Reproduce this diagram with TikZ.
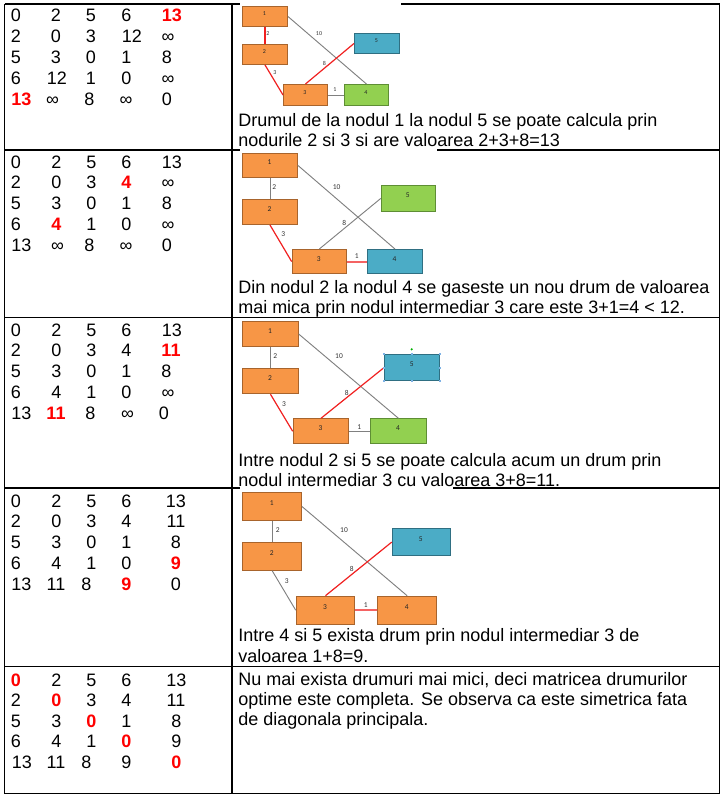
\documentclass[tikz,border=0pt]{standalone}
\usepackage{fontspec}
\setmainfont{Liberation Sans}
\newfontfamily\gfont{Carlito}
\definecolor{orfill}{HTML}{F79646}
\definecolor{ordraw}{HTML}{A8642C}
\definecolor{grfill}{HTML}{92D050}
\definecolor{grdraw}{HTML}{5E8E34}
\definecolor{blfill}{HTML}{4BACC6}
\definecolor{bldraw}{HTML}{2F6F82}
\definecolor{edgegray}{HTML}{808080}
\definecolor{edgered}{HTML}{F02020}
\definecolor{handleblue}{HTML}{7FB2E5}
\newcommand\R[1]{\textcolor{red}{\bfseries #1}}
\newcommand\I{∞}
\newcommand\trow[3]{\foreach \cx/\ct [count=\ci] in {#3} {\node[num] (#1c\ci) at (\cx,#2) {\ct};}}
\newcommand\gbox[8]{%
  \node[#2, anchor=north west, minimum width={(#5-#3)*0.75pt}, minimum height={(#6-#4)*0.75pt}] (#1) at (#3,#4) {};
  \node[inner sep=0pt, text=black!85, font=\gfont\fontsize{#8}{#8}\selectfont] (#1t) at ({(#3+#5)/2},{#4+0.4*(#6-#4)}) {#7};}
\tikzset{
  num/.style={anchor=base, inner sep=0pt, font=\fontsize{13.5}{15}\selectfont},
  txt/.style={anchor=base west, inner sep=0pt, font=\fontsize{13.5}{15}\selectfont},
  grid/.style={line width=0.95pt, black},
  gb/.style={draw, line width=0.7pt, inner sep=0pt, rectangle},
  orb/.style={gb, fill=orfill, draw=ordraw},
  grb/.style={gb, fill=grfill, draw=grdraw},
  blb/.style={gb, fill=blfill, draw=bldraw},
  eg/.style={draw=edgegray, line width=0.7pt},
  er/.style={draw=edgered, line width=0.9pt},
  elab/.style={inner sep=0pt, text=black!80, font=\gfont\fontsize{5.6}{5.6}\selectfont},
  elabs/.style={inner sep=0pt, text=black!80, font=\gfont\fontsize{4.5}{4.5}\selectfont},
  handle/.style={fill=handleblue, inner sep=0pt, minimum size=1.6pt, rectangle}
}
\begin{document}
\begin{tikzpicture}[x=0.75pt,y=-0.75pt]
\useasboundingbox (0,0) rectangle (726,800);
% ---------- table grid ----------
\draw[grid] (4.5,4) -- (240,4);
\draw[grid] (401,4) -- (719.5,4);
\draw[grid] (4.5,150) -- (240,150);
\draw[grid] (437,150) -- (719.5,150);
\draw[grid] (4.5,317.7) -- (719.5,317.7);
\draw[grid] (4.5,488) -- (240,488);
\draw[grid] (453,488) -- (719.5,488);
\draw[grid] (4.5,666.5) -- (719.5,666.5);
\draw[grid] (4.5,793.5) -- (719.5,793.5);
\draw[grid] (4.5,4) -- (4.5,793.5);
\draw[grid] (232,4) -- (232,793.5);
\draw[grid] (719.5,4) -- (719.5,793.5);
% ---------- matrices ----------
\trow{taA}{21}{16/0, 56/2, 91/5, 126.5/6, 172/\R{13}}
\trow{taB}{42}{16/2, 56/0, 91/3, 132/12, 168/\I}
\trow{taC}{63}{16/5, 56/3, 91/0, 126.5/1, 167/8}
\trow{taD}{84}{16/6, 57/12, 91/1, 126.5/0, 168/\I}
\trow{taE}{105}{21.5/\R{13}, 52.5/\I, 89.5/8, 126/\I, 167/0}
%
\trow{tbA}{168}{16/0, 56.5/2, 91.5/5, 126.5/6, 172/13}
\trow{tbB}{188.75}{16/2, 56.5/0, 91.5/3, 126.5/\R{4}, 168/\I}
\trow{tbC}{209.5}{16/5, 56.5/3, 91.5/0, 126.5/1, 167/8}
\trow{tbD}{230.25}{16/6, 56.5/\R{4}, 91.5/1, 126.5/0, 168/\I}
\trow{tbE}{251}{21.5/13, 57.5/\I, 89.5/8, 126/\I, 167/0}
%
\trow{tcA}{336}{16/0, 56.5/2, 91.5/5, 126.5/6, 172/13}
\trow{tcB}{356.75}{16/2, 56.5/0, 91.5/3, 126.5/4, 171/\R{11}}
\trow{tcC}{377.5}{16/5, 56.5/3, 91.5/0, 126.5/1, 166.5/8}
\trow{tcD}{398.25}{16/6, 56.5/4, 91.5/1, 126.5/0, 168/\I}
\trow{tcE}{419}{21.5/13, 56/\R{11}, 90.5/8, 127.5/\I, 164/0}
%
\trow{tdA}{507}{16/0, 56.5/2, 91.5/5, 126.5/6, 176/13}
\trow{tdB}{527.75}{16/2, 56.5/0, 91.5/3, 126.5/4, 176/11}
\trow{tdC}{548.5}{16/5, 56.5/3, 91.5/0, 126.5/1, 176/8}
\trow{tdD}{569.25}{16/6, 56.5/4, 91.5/1, 126.5/0, 176/\R{9}}
\trow{tdE}{590}{21.5/13, 56/11, 86.5/8, 126.5/\R{9}, 176/0}
%
\trow{teA}{686}{16/\R{0}, 56.5/2, 91.5/5, 126.5/6, 176.5/13}
\trow{teB}{706.5}{16/2, 56.5/\R{0}, 91.5/3, 126.5/4, 176/11}
\trow{teC}{727}{16/5, 56.5/3, 91.5/\R{0}, 126.5/1, 176.5/8}
\trow{teD}{747.5}{16/6, 56.5/4, 91.5/1, 126.5/\R{0}, 176.5/9}
\trow{teE}{768}{22/13, 56/11, 86.5/8, 126.5/9, 176.5/\R{0}}
% ---------- explanations ----------
\node[txt] (p1a) at (238,126.5) {Drumul de la nodul 1 la nodul 5 se poate calcula prin};
\node[txt] (p1b) at (238,146.5) {nodurile 2 si 3 si are valoarea 2+3+8=13};
\node[txt] (p2a) at (238,293.5) {Din nodul 2 la nodul 4 se gaseste un nou drum de valoarea};
\node[txt] (p2b) at (238,313.5) {mai mica prin nodul intermediar 3 care este 3+1=4 < 12.};
\node[txt] (p3a) at (238,466) {Intre nodul 2 si 5 se poate calcula acum un drum prin};
\node[txt] (p3b) at (238,486) {nodul intermediar 3 cu valoarea 3+8=11.};
\node[txt] (p4a) at (238,641.5) {Intre 4 si 5 exista drum prin nodul intermediar 3 de};
\node[txt] (p4b) at (238,662) {valoarea 1+8=9.};
\node[txt] (p5a) at (238,685) {Nu mai exista drumuri mai mici, deci matricea drumurilor};
\node[txt] (p5b) at (238,705) {optime este completa. Se observa ca este simetrica fata};
\node[txt] (p5c) at (238,725) {de diagonala principala.};
% ---------- graph 1 ----------
\gbox{gA1}{orb}{242}{6}{287}{26}{1}{4.5}
\gbox{gA2}{orb}{242}{44}{287}{64}{2}{4.5}
\gbox{gA3}{orb}{283}{84}{327}{105}{3}{4.5}
\gbox{gA4}{grb}{344}{84}{388}{105}{4}{4.5}
\gbox{gA5}{blb}{354}{33}{399}{53}{5}{4.5}
\draw[er] (gA1.south) -- (gA2.north);
\draw[er] (gA2.south) -- (gA3.west);
\draw[eg] (gA1.east) -- (gA4.north);
\draw[er] (gA3.north) -- (gA5.west);
\draw[eg] (gA3.east) -- (gA4.west);
\node[elabs] (gAl12) at (268,34) {2};
\node[elabs] (gAl23) at (275,72.5) {3};
\node[elabs] (gAl14) at (319,33.5) {10};
\node[elabs] (gAl35) at (324.5,63) {8};
\node[elabs] (gAl34) at (335,90) {1};
% ---------- graph 2 ----------
\gbox{gB1}{orb}{242.3}{152.7}{296.7}{176.7}{1}{5.6}
\gbox{gB2}{orb}{242.3}{199}{296.7}{224}{2}{5.6}
\gbox{gB3}{orb}{291.7}{249}{346}{273.3}{3}{5.6}
\gbox{gB4}{blb}{367.3}{249}{421.7}{273.3}{4}{5.6}
\gbox{gB5}{grb}{380.7}{185.3}{435}{210.7}{5}{5.6}
\draw[eg] (gB1.south) -- (gB2.north);
\draw[er] (gB2.south) -- (gB3.west);
\draw[eg] (gB1.east) -- (gB4.north);
\draw[eg] (gB3.north) -- (gB5.west);
\draw[er, line width=1.4pt, draw=edgered!70] (gB3.east) -- (gB4.west);
\node[elab] (gBl12) at (274.3,186.7) {2};
\node[elab] (gBl23) at (283.3,234.3) {3};
\node[elab] (gBl14) at (336.7,186.7) {10};
\node[elab] (gBl35) at (344.3,222.7) {8};
\node[elab] (gBl34) at (356.7,256) {1};
% ---------- graph 3 ----------
\gbox{gC1}{orb}{242.3}{321}{297.7}{346}{1}{5.6}
\gbox{gC2}{orb}{242.3}{368.3}{297.7}{393.3}{2}{5.6}
\gbox{gC3}{orb}{292.7}{418.3}{348.3}{443.3}{3}{5.6}
\gbox{gC4}{grb}{370}{418.3}{426}{443.3}{4}{5.6}
\gbox{gC5}{blb}{384}{354.3}{439.3}{380}{5}{5.6}
\draw[eg] (gC1.south) -- (gC2.north);
\draw[er] (gC2.south) -- (gC3.west);
\draw[eg] (gC1.east) -- (gC4.north);
\draw[er] (gC3.north) -- (gC5.west);
\draw[eg] (gC3.east) -- (gC4.west);
\node[elab] (gCl12) at (275.3,355.7) {2};
\node[elab] (gCl23) at (284,404.3) {3};
\node[elab] (gCl14) at (339,355.7) {10};
\node[elab] (gCl35) at (346.7,392.7) {8};
\node[elab] (gCl34) at (359.3,426.7) {1};
\foreach \a [count=\i] in {north west, north, north east, east, south east, south, south west, west}
  \node[handle] (gCh\i) at (gC5.\a) {};
\node[circle, fill=green!70!black, inner sep=0pt, minimum size=1.8pt] (gCrot) at (411.7,349.3) {};
% ---------- graph 4 ----------
\gbox{gD1}{orb}{242.3}{492.3}{301}{519.7}{1}{5.6}
\gbox{gD2}{orb}{242.3}{542.3}{301}{569.7}{2}{5.6}
\gbox{gD3}{orb}{295.7}{595.7}{354.3}{623.7}{3}{5.6}
\gbox{gD4}{orb}{377.3}{595.7}{436}{623.7}{4}{5.6}
\gbox{gD5}{blb}{391.7}{528}{450}{555.3}{5}{5.6}
\draw[eg] (gD1.south) -- (gD2.north);
\draw[eg] (gD2.south) -- (gD3.west);
\draw[eg] (gD1.east) -- (gD4.north);
\draw[er] (gD3.north) -- (gD5.west);
\draw[er, line width=1.4pt, draw=edgered!70] (gD3.east) -- (gD4.west);
\node[elab] (gDl12) at (277.7,529.7) {2};
\node[elab] (gDl23) at (286.7,580.7) {3};
\node[elab] (gDl14) at (344,529.7) {10};
\node[elab] (gDl35) at (351.7,568.7) {8};
\node[elab] (gDl34) at (365.7,604.7) {1};
\end{tikzpicture}
\end{document}
